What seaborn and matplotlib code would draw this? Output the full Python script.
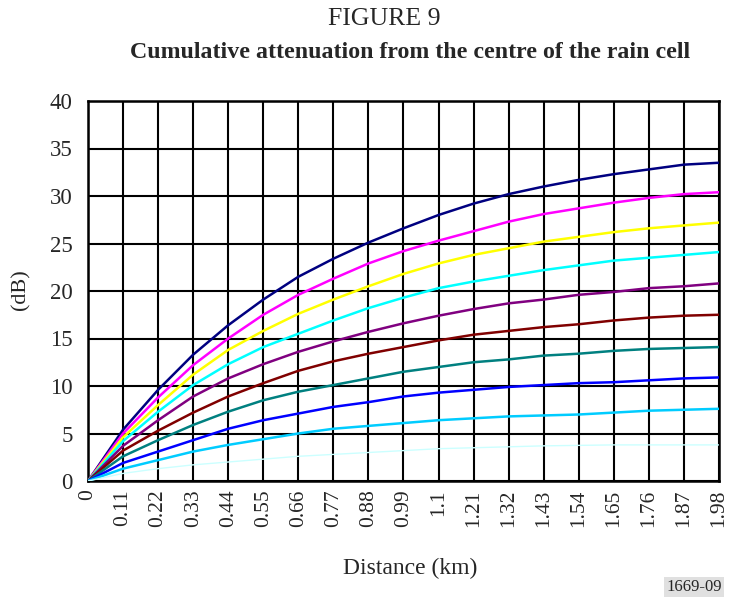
import matplotlib
matplotlib.use("Agg")
import matplotlib.pyplot as plt
import seaborn as sns
import pandas as pd

distance = [0, 0.11, 0.22, 0.33, 0.44, 0.55, 0.66, 0.77, 0.88, 0.99, 1.10,
            1.21, 1.32, 1.43, 1.54, 1.65, 1.76, 1.87, 1.98]
tick_labels = ["0", "0.11", "0.22", "0.33", "0.44", "0.55", "0.66", "0.77", "0.88",
               "0.99", "1.1", "1.21", "1.32", "1.43", "1.54", "1.65", "1.76", "1.87", "1.98"]

s1 = [0, 5.4, 9.6, 13.3, 16.4, 19.1, 21.5, 23.4, 25.1, 26.6, 28.0, 29.2, 30.2, 31.0, 31.7, 32.3, 32.8, 33.3, 33.5]
s2 = [0, 5.0, 8.8, 12.2, 15.0, 17.5, 19.6, 21.3, 22.9, 24.2, 25.3, 26.3, 27.3, 28.1, 28.7, 29.3, 29.8, 30.2, 30.4]
s3 = [0, 4.6, 8.0, 11.2, 13.8, 15.8, 17.6, 19.1, 20.5, 21.8, 22.9, 23.8, 24.5, 25.2, 25.7, 26.2, 26.6, 26.9, 27.2]
s4 = [0, 4.2, 7.3, 10.1, 12.3, 14.1, 15.5, 16.9, 18.2, 19.3, 20.3, 21.0, 21.6, 22.2, 22.7, 23.2, 23.5, 23.8, 24.1]
s5 = [0, 3.7, 6.4, 8.9, 10.8, 12.3, 13.6, 14.7, 15.7, 16.6, 17.4, 18.1, 18.7, 19.1, 19.6, 19.9, 20.3, 20.5, 20.8]
s6 = [0, 3.2, 5.3, 7.2, 8.9, 10.3, 11.6, 12.6, 13.4, 14.1, 14.8, 15.4, 15.8, 16.2, 16.5, 16.9, 17.2, 17.4, 17.5]
s7 = [0, 2.6, 4.3, 5.9, 7.3, 8.5, 9.4, 10.1, 10.8, 11.5, 12.0, 12.5, 12.8, 13.2, 13.4, 13.7, 13.9, 14.0, 14.1]
s8 = [0, 1.9, 3.1, 4.3, 5.5, 6.4, 7.1, 7.8, 8.3, 8.9, 9.3, 9.6, 9.9, 10.1, 10.3, 10.4, 10.6, 10.8, 10.9]
s9 = [0, 1.3, 2.2, 3.1, 3.8, 4.4, 5.0, 5.5, 5.8, 6.1, 6.4, 6.6, 6.8, 6.9, 7.0, 7.2, 7.4, 7.5, 7.6]
s10 = [0, 0.8, 1.3, 1.7, 2.0, 2.3, 2.6, 2.8, 3.0, 3.2, 3.4, 3.5, 3.6, 3.7, 3.75, 3.8, 3.8, 3.8, 3.8]

series_names = ["s1", "s2", "s3", "s4", "s5", "s6", "s7", "s8", "s9", "s10"]
series_values = [s1, s2, s3, s4, s5, s6, s7, s8, s9, s10]
colors = ["#000080", "#FF00FF", "#FFFF00", "#00FFFF", "#800080",
          "#800000", "#008080", "#0000FF", "#00CCFF", "#CCFFFF"]

rows = []
for name, vals in zip(series_names, series_values):
    for d, v in zip(distance, vals):
        rows.append({"distance": d, "value": v, "series": name})
df = pd.DataFrame(rows)

sns.set_style("white")
plt.rcParams["font.family"] = ["Liberation Serif", "DejaVu Serif"]

fig = plt.figure(figsize=(7.30, 6.02), dpi=100)
ax = fig.add_axes([88 / 730, 1 - 481 / 602, (719 - 88) / 730, (481 - 101) / 602])

sns.lineplot(data=df, x="distance", y="value", hue="series",
             palette=dict(zip(series_names, colors)), linewidth=1.8,
             legend=False, ax=ax, zorder=3)
for line in ax.get_lines():
    line.set_solid_joinstyle("round")
ax.get_lines()[-1].set_linewidth(1.0)

ax.set_xlim(0, 1.98)
ax.set_ylim(0, 40)
ax.set_xticks(distance)
ax.set_xticklabels(tick_labels, rotation=90, fontsize=15.5)
ax.set_yticks(range(0, 41, 5))
ax.tick_params(axis="y", labelsize=16.5, length=0, pad=11)
ax.tick_params(axis="x", length=0, pad=6)
ax.grid(True, color="black", linewidth=1.5)
ax.set_axisbelow(True)
for sp in ax.spines.values():
    sp.set_color("black")
    sp.set_linewidth(1.8)

ax.set_xlabel("Distance (km)", fontsize=17)
ax.xaxis.set_label_coords((410 - 88) / 631, (481 - 568) / 380)
ax.xaxis.label.set_va("center")
ax.set_ylabel("(dB)", fontsize=16)
ax.yaxis.set_label_coords((21 - 88) / 631, (481 - 290) / 380)
ax.yaxis.label.set_va("center")

fig.text(384 / 730, 1 - 19 / 602, "FIGURE 9", ha="center", va="center", fontsize=18.5)
fig.text(410 / 730, 1 - 53 / 602, "Cumulative attenuation from the centre of the rain cell",
         ha="center", va="center", fontsize=17.2, fontweight="bold")
fig.text(694 / 730, 1 - 587 / 602, "1669-09", ha="center", va="center", fontsize=12,
         bbox=dict(facecolor="#e0e0e0", edgecolor="none", pad=1.5))

fig.savefig("out.png", dpi=100)
